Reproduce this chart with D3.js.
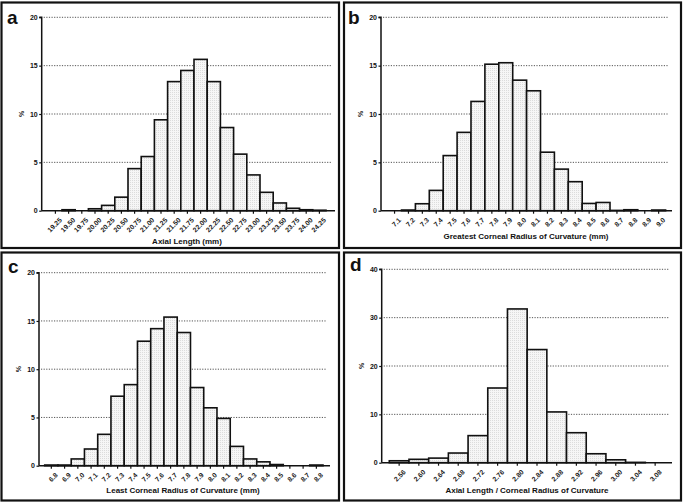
<!DOCTYPE html>
<html><head><meta charset="utf-8">
<script src="https://cdn.jsdelivr.net/npm/d3@7"></script>
<style>
html,body{margin:0;padding:0;background:#fff;}
svg{display:block;font-family:"Liberation Sans",Arial,sans-serif;}
</style></head><body>
<svg id="chart" width="685" height="504"></svg>
<script>
// ---------- DATA ----------
const axialBins = ["19.25","19.50","19.75","20.00","20.25","20.50","20.75","21.00","21.25","21.50","21.75","22.00","22.25","22.50","22.75","23.00","23.25","23.50","23.75","24.00","24.25"];
const axialPct  = [0,0.1,0,0.2,0.55,1.4,4.35,5.6,9.4,13.35,14.5,15.65,13.35,8.6,5.85,3.7,1.9,0.8,0.25,0.1,0.05];

const greatestBins = ["7.1","7.2","7.3","7.4","7.5","7.6","7.7","7.8","7.9","8.0","8.1","8.2","8.3","8.4","8.5","8.6","8.7","8.8","8.9","9.0"];
const greatestPct  = [0,0.07,0.72,2.1,5.7,8.1,11.3,15.15,15.3,13.5,12.4,6.05,4.3,3.0,0.75,0.85,0.03,0.1,0,0.07];

const leastBins = ["6.8","6.9","7.0","7.1","7.2","7.3","7.4","7.5","7.6","7.7","7.8","7.9","8.0","8.1","8.2","8.3","8.4","8.5","8.6","8.7","8.8"];
const leastPct  = [0.07,0.07,0.7,1.73,3.25,7.2,8.4,12.9,14.2,15.4,13.8,8.1,6.0,4.9,2.0,0.7,0.4,0.12,0,0,0.07];

const ratioBins = ["2.56","2.60","2.64","2.68","2.72","2.76","2.80","2.84","2.88","2.92","2.96","3.00","3.04","3.08"];
const ratioPct  = [0.4,0.7,0.95,2.0,5.6,15.45,31.8,23.4,10.5,6.2,1.85,0.6,0.07,0];

const yTicks20 = [0,5,10,15,20];
const yTicks40 = [0,10,20,30,40];

const panelLetters = ["a","b","c","d"];
const xTitles = ["Axial Length (mm)","Greatest Corneal Radius of Curvature (mm)","Least Corneal Radius of Curvature (mm)","Axial Length / Corneal Radius of Curvature"];
const yTitle = "%";

// ---------- LAYOUT ----------
const panels = [
  {letter:panelLetters[0], bins:axialBins, vals:axialPct, ticks:yTicks20, ymax:20, title:xTitles[0],
   box:[1.5,2.5,337.5,245.5], axisX:41.7, b0:48.8, b1:326, y0:210.7, y1:17.3, axisEnd:335, titleX:187, titleY:244, letterX:7, letterY:24},
  {letter:panelLetters[1], bins:greatestBins, vals:greatestPct, ticks:yTicks20, ymax:20, title:xTitles[1],
   box:[344,2.5,337,245.5], axisX:381, b0:387.6, b1:665.6, y0:210.7, y1:17.3, axisEnd:672, titleX:526, titleY:239, letterX:348, letterY:24},
  {letter:panelLetters[2], bins:leastBins, vals:leastPct, ticks:yTicks20, ymax:20, title:xTitles[2],
   box:[1.5,252.5,337.5,248], axisX:39, b0:44.7, b1:323, y0:465.7, y1:272.7, axisEnd:330, titleX:183, titleY:493, letterX:8, letterY:273},
  {letter:panelLetters[3], bins:ratioBins, vals:ratioPct, ticks:yTicks40, ymax:40, title:xTitles[3],
   box:[344,252.5,337,248], axisX:381.7, b0:389.3, b1:665, y0:462.7, y1:269.3, axisEnd:672, titleX:527, titleY:493, letterX:350, letterY:271}
];

const svg = d3.select("#chart");
const defs = svg.append("defs");
const pat = defs.append("pattern").attr("id","stip").attr("patternUnits","userSpaceOnUse").attr("width",2).attr("height",2);
pat.append("rect").attr("width",2).attr("height",2).attr("fill","#f6f6f6");
pat.append("rect").attr("x",0).attr("y",0).attr("width",1).attr("height",1).attr("fill","#dcdcdc");

panels.forEach(p => {
  const g = svg.append("g");
  g.append("rect").attr("x",p.box[0]).attr("y",p.box[1]).attr("width",p.box[2]).attr("height",p.box[3])
    .attr("fill","#fff").attr("stroke","#111").attr("stroke-width",2.2);

  const x = d3.scaleBand().domain(p.bins).range([p.b0,p.b1]).padding(0);
  const y = d3.scaleLinear().domain([0,p.ymax]).range([p.y0,p.y1]);

  // grid
  g.append("g").selectAll("line").data(p.ticks.filter(t=>t>0)).join("line")
    .attr("x1",p.axisX+2).attr("x2",p.axisEnd-3).attr("y1",d=>y(d)).attr("y2",d=>y(d))
    .attr("stroke","#555").attr("stroke-width",1).attr("stroke-dasharray","1.2,1.4");

  // bars
  g.append("g").selectAll("rect").data(p.vals).join("rect")
    .attr("x",(d,i)=>x(p.bins[i])).attr("width",x.bandwidth())
    .attr("y",d=>y(d)).attr("height",d=>p.y0-y(d))
    .attr("fill","url(#stip)").attr("stroke","#111").attr("stroke-width",1.6);

  // y axis
  const ya = g.append("g").attr("transform",`translate(${p.axisX},0)`)
    .call(d3.axisLeft(y).tickValues(p.ticks).tickSize(2.5).tickPadding(1.5).tickFormat(d3.format("d")));
  ya.select(".domain").attr("stroke","#111").attr("stroke-width",1.5).attr("d",`M-2.5,${p.y1}H0V${p.y0}`);
  ya.selectAll(".tick line").attr("stroke","#111").attr("stroke-width",1.2);
  ya.selectAll(".tick text").attr("font-size",7).attr("font-weight","bold").attr("fill","#111").attr("font-family","Liberation Sans, Arial, sans-serif");

  // x axis
  const xa = g.append("g").attr("transform",`translate(0,${p.y0})`)
    .call(d3.axisBottom(x).tickSize(3).tickPadding(2));
  xa.select(".domain").attr("stroke","#111").attr("stroke-width",1.5).attr("d",`M${p.axisX},0H${p.axisEnd}`);
  xa.selectAll(".tick line").attr("stroke","#111").attr("stroke-width",1.2);
  xa.selectAll(".tick text").attr("font-size",6.8).attr("font-weight","bold").attr("fill","#1a1a1a")
    .attr("font-family","Liberation Sans, Arial, sans-serif")
    .attr("text-anchor","end").attr("dy","0.3em").attr("transform","translate(2,5) rotate(-45)");

  // y title
  g.append("text").attr("transform",`translate(${p.axisX-18},${(p.y0+p.y1)/2}) rotate(-90)`)
    .attr("text-anchor","middle").attr("font-size",7).attr("font-weight","bold").attr("fill","#111").text(yTitle);

  // x title
  g.append("text").attr("x",p.titleX).attr("y",p.titleY).attr("text-anchor","middle")
    .attr("font-size",8).attr("font-weight","bold").attr("fill","#111").text(p.title);

  // letter
  g.append("text").attr("x",p.letterX).attr("y",p.letterY).attr("font-size",19).attr("font-weight","bold")
    .attr("fill","#111").text(p.letter);
});
</script>
</body></html>
